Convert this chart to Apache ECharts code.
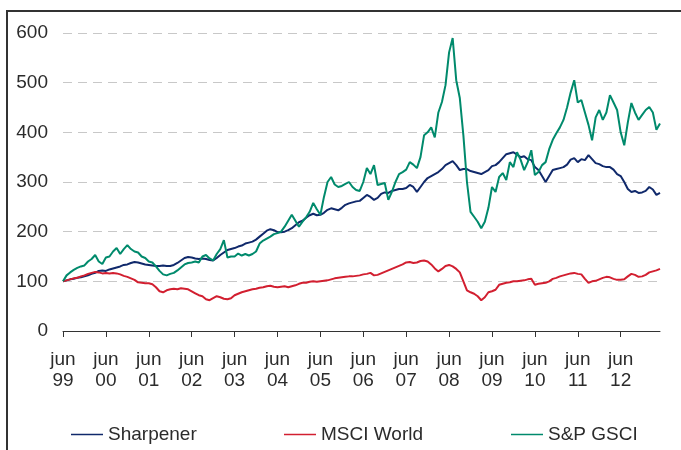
<!DOCTYPE html>
<html>
<head>
<meta charset="utf-8">
<script src="https://cdn.jsdelivr.net/npm/echarts@6/dist/echarts.min.js"></script>
<style>
  html, body { margin: 0; padding: 0; background: #fff; }
  #container { width: 681px; height: 450px; }
</style>
</head>
<body>
<div id="container"></div>
<script>
// month labels, jun 99 .. may 13
const monthNames = ['jun', 'jul', 'aug', 'sep', 'oct', 'nov', 'dec', 'jan', 'feb', 'mar', 'apr', 'may'];
const months = [];
for (let i = 0; i < 168; i++) {
  const yr = 99 + Math.floor((i + 5) / 12);
  months.push(monthNames[i % 12] + ' ' + String(yr % 100).padStart(2, '0'));
}

// values, one per month
const sharpener = [
  100, 102, 104, 105, 107, 108, 110, 112, 115, 117, 121, 122,
  121, 124, 126, 128, 130, 133, 134, 137, 139, 138, 136, 134,
  133, 132, 131, 131, 132, 131, 131, 133, 137, 142, 147, 149,
  148, 146, 145, 146, 145, 143, 142, 147, 153, 158, 163, 165,
  167, 170, 172, 176, 178, 180, 184, 190, 196, 202, 205, 203,
  199, 199, 200, 203, 207, 213, 219, 222, 228, 233, 236, 233,
  234, 238, 244, 247, 245, 243, 248, 254, 257, 259, 261, 262,
  268, 274, 270, 264, 268, 276, 279, 278, 282, 284, 286, 286,
  288, 294, 290, 280, 290, 300, 308, 312, 316, 320, 326, 334,
  338, 342, 334, 324, 326, 326, 322, 320, 318, 316, 320, 324,
  332, 334, 340, 348, 356, 358, 360, 355, 350, 352, 346, 344,
  330, 324, 312, 300, 312, 324, 326, 328, 330, 335, 345, 348,
  340, 346, 344, 354, 346, 338, 336, 332, 330, 330, 325, 316,
  312, 300, 286, 280, 282, 278, 279, 282, 290, 285, 274, 278
];
const msciWorld = [
  100, 102, 104, 106, 107, 110, 112, 115, 117, 119, 118, 116,
  117, 116, 117, 116, 114, 111, 109, 106, 103, 98, 97, 96,
  96, 94, 88, 80, 78, 82, 84, 85, 84, 86, 85, 84,
  80, 76, 72, 70, 64, 62, 66, 70, 68, 65, 64, 66,
  72, 75, 78, 80, 82, 84, 85, 87, 88, 90, 91, 89,
  88, 89, 90, 88, 90, 92, 95, 97, 97, 99, 100, 99,
  100, 101, 102, 104, 106, 107, 108, 109, 110, 110, 111, 112,
  114, 115, 117, 112, 113, 116, 119, 122, 125, 128, 131, 134,
  138, 139, 137, 138, 141, 142, 140, 134, 126, 120, 125, 131,
  133, 130, 125, 118, 100, 82, 78, 75, 70, 62, 68, 78,
  80, 83, 93, 95, 97, 98, 100, 100, 101, 102, 104, 105,
  93, 95, 96, 97, 100, 105, 107, 110, 112, 114, 116, 117,
  115, 114, 105, 97, 100, 101, 104, 107, 109, 108, 105, 103,
  103, 104, 110, 115, 113, 109, 110, 113, 118, 120, 122, 125
];
const gsci = [
  100, 112, 118, 123, 127, 130, 132, 140, 145, 153, 140, 135,
  148, 150, 160, 167, 155, 165, 173, 165, 160, 158, 150, 147,
  140, 138, 130, 121, 114, 112, 115, 117, 122, 128, 134, 137,
  138, 140, 138, 150, 153, 146, 142, 155, 165, 183, 148, 150,
  150, 156, 152, 155, 152, 155, 160, 176, 182, 186, 190, 195,
  197, 200, 210, 222, 234, 222, 210, 220, 229, 240, 258, 245,
  234, 270, 300, 310, 295, 290, 292, 296, 300, 290, 284, 282,
  300, 328, 316, 334, 294, 296, 298, 264, 280, 300, 316, 320,
  325, 340, 335, 328, 350, 394, 400, 410, 390, 440, 461, 495,
  561, 590, 505, 469, 394, 300, 240, 230, 220, 207, 220, 248,
  290, 280, 310, 318, 304, 340, 330, 360, 345, 324, 340, 364,
  314, 320, 334, 340, 366, 385, 398, 410, 425, 450, 480, 505,
  460, 465, 440, 415, 384, 430, 445, 425, 440, 475, 460, 445,
  400, 374, 420, 459, 440, 425, 435, 445, 451, 440, 405, 418
];

const seriesNames = ['Sharpener', 'MSCI World', 'S&P GSCI'];
const seriesColors = ['#10296b', '#d21f30', '#008a6c'];
const yTicks = { min: 0, max: 600, interval: 100 };

const dom = document.getElementById('container');
const myChart = echarts.init(dom);
const textColor = '#2b2b2b';
const fontFamily = '"Liberation Sans", Arial, sans-serif';
const showJune = (index) => index % 12 === 0;

const option = {
  animation: false,
  textStyle: { fontFamily: fontFamily },
  graphic: [{
    type: 'rect',
    shape: { x: 7, y: 11, width: 720, height: 500 },
    style: { fill: 'none', stroke: '#333', lineWidth: 2 },
    silent: true,
  }],
  grid: {
    left: 63,
    right: 21,
    top: 33,
    bottom: 119,
  },
  legend: seriesNames.map((name, i) => ({
    data: [name],
    left: [71, 284, 511][i],
    top: 425,
    padding: 0,
    icon: 'rect',
    itemWidth: 32,
    itemHeight: 1.5,
    itemGap: 0,
    textStyle: { fontSize: 19, color: textColor, fontFamily: fontFamily },
  })),
  xAxis: {
    type: 'category',
    data: months,
    boundaryGap: false,
    axisLine: { lineStyle: { color: '#333', width: 1 } },
    axisTick: { interval: showJune, length: 6, lineStyle: { color: '#333', width: 1 } },
    axisLabel: {
      interval: showJune,
      formatter: (v) => v.replace(' ', '\n'),
      fontSize: 19,
      lineHeight: 21,
      margin: 18,
      color: textColor,
    },
    splitLine: { show: false },
  },
  yAxis: {
    type: 'value',
    min: yTicks.min,
    max: yTicks.max,
    interval: yTicks.interval,
    axisLine: { show: false },
    axisTick: { show: false },
    axisLabel: { fontSize: 19, margin: 15, color: textColor },
    splitLine: { lineStyle: { color: '#c8c8c8', type: [9, 6], width: 1 } },
  },
  series: [sharpener, msciWorld, gsci].map((data, i) => ({
    name: seriesNames[i],
    type: 'line',
    data: data,
    showSymbol: false,
    symbol: 'none',
    color: seriesColors[i],
    lineStyle: { width: 2, color: seriesColors[i] },
  })),
};

myChart.setOption(option, true);
</script>
</body>
</html>
